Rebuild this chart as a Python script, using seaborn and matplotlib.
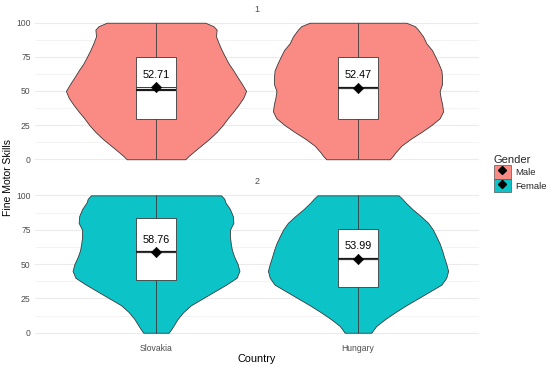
import numpy as np
import pandas as pd
import matplotlib
matplotlib.use("Agg")
import matplotlib.pyplot as plt
import seaborn as sns
from matplotlib.patches import Patch
from matplotlib.lines import Line2D
from matplotlib.legend_handler import HandlerTuple

# Data
countries = ["Slovakia", "Hungary"]
genders = ["Male", "Female"]
panels = ["1", "2"]

# violin outline: score levels and half widths (x units) at each level
levels = [0, 2.5, 5, 10, 15, 20, 25, 30, 35, 40, 45, 50, 55, 60, 65, 70, 75, 80, 85, 90, 95, 97.5, 100]
hw_sk_male = [0.145, 0.162, 0.182, 0.223, 0.264, 0.300, 0.330, 0.355, 0.383, 0.409, 0.432, 0.446,
              0.426, 0.404, 0.383, 0.360, 0.342, 0.325, 0.310, 0.297, 0.300, 0.284, 0.244]
hw_hu_male = [0.157, 0.173, 0.185, 0.215, 0.261, 0.314, 0.363, 0.404, 0.421, 0.417, 0.409, 0.404,
              0.416, 0.416, 0.413, 0.399, 0.383, 0.366, 0.338, 0.322, 0.297, 0.281, 0.239]
hw_sk_female = [0.063, 0.075, 0.086, 0.107, 0.135, 0.173, 0.231, 0.289, 0.347, 0.399, 0.413, 0.404,
                0.388, 0.376, 0.370, 0.366, 0.366, 0.383, 0.380, 0.366, 0.343, 0.338, 0.322]
hw_hu_female = [0.066, 0.078, 0.091, 0.135, 0.185, 0.239, 0.297, 0.355, 0.413, 0.437, 0.446, 0.437,
                0.426, 0.416, 0.404, 0.388, 0.371, 0.347, 0.310, 0.269, 0.234, 0.219, 0.201]

means = {"Male": [52.71, 52.47], "Female": [58.76, 53.99]}
medians = {"Male": [50.5, 52.5], "Female": [58.7, 54.0]}
q1 = {"Male": [29.5, 29.5], "Female": [38.3, 33.5]}
q3 = {"Male": [75.0, 75.0], "Female": [83.6, 75.2]}
whisker_lo = {"Male": [0, 0], "Female": [0, 0]}
whisker_hi = {"Male": [100, 100], "Female": [100, 100]}

half_widths = {"Male": [hw_sk_male, hw_hu_male], "Female": [hw_sk_female, hw_hu_female]}
colors = {"Male": "#F98A84", "Female": "#0CC3C8"}

sns.set_theme(style="white")
plt.rcParams["font.family"] = ["Liberation Sans", "DejaVu Sans"]

fig = plt.figure(figsize=(5.5, 3.69), dpi=100)
ax_top = fig.add_axes([0.0633, 0.5499, 0.808, 0.407])
ax_bot = fig.add_axes([0.0633, 0.0797, 0.808, 0.4095])

positions = np.arange(len(countries))
edge = "#3a3a3a"

for ax, gender, panel in zip([ax_top, ax_bot], genders, panels):
    ax.set_xlim(-0.6, 1.6)
    ax.set_ylim(-5, 105)
    ax.set_yticks([0, 25, 50, 75, 100])
    ax.set_yticks([12.5, 37.5, 62.5, 87.5], minor=True)
    ax.grid(axis="y", which="major", color="#EBEBEB", lw=0.8)
    ax.grid(axis="y", which="minor", color="#EBEBEB", lw=0.4)
    ax.grid(axis="x", visible=False)
    ax.set_axisbelow(True)
    for s in ax.spines.values():
        s.set_visible(False)
    ax.tick_params(axis="y", labelsize=6.2, labelcolor="#4D4D4D", length=0, pad=3)
    ax.tick_params(axis="x", labelsize=6.2, labelcolor="#4D4D4D", length=0, pad=3)

    for i, pos in enumerate(positions):
        hw = np.array(half_widths[gender][i])
        ax.fill_betweenx(levels, pos - hw, pos + hw, facecolor=colors[gender],
                         edgecolor=edge, lw=0.6, zorder=2)

    stats = []
    for i in range(len(countries)):
        stats.append({"med": medians[gender][i], "q1": q1[gender][i], "q3": q3[gender][i],
                      "whislo": whisker_lo[gender][i], "whishi": whisker_hi[gender][i],
                      "fliers": []})
    ax.bxp(stats, positions=positions, widths=0.2, patch_artist=True, showcaps=False,
           showfliers=False, manage_ticks=False,
           boxprops=dict(facecolor="white", edgecolor=edge, lw=0.6),
           whiskerprops=dict(color=edge, lw=0.6),
           medianprops=dict(color="#1a1a1a", lw=1.6),
           zorder=3)
    ax.hlines(means[gender], positions - 0.1, positions + 0.1, color=edge, lw=0.7, zorder=4)

    df = pd.DataFrame({"pos": positions, "mean": means[gender]})
    sns.scatterplot(data=df, x="pos", y="mean", marker="D", color="black", s=28,
                    edgecolor="black", ax=ax, zorder=5)
    for pos, m in zip(positions, means[gender]):
        ax.text(pos, m + 9, f"{m:.2f}", ha="center", va="center", fontsize=7.8,
                color="black", zorder=6)

    ax.set_xlabel("")
    ax.set_ylabel("")
    ax.set_title(panel, fontsize=6.5, color="#4D4D4D", pad=3)

ax_top.set_xticks(positions)
ax_top.set_xticklabels([])
ax_bot.set_xticks(positions)
ax_bot.set_xticklabels(countries)

fig.text(8 / 550, 1 - 178 / 369, "Fine Motor Skills", rotation=90, ha="center", va="center",
         fontsize=7.5, color="black")
fig.text(257 / 550, 1 - 359 / 369, "Country", ha="center", va="center", fontsize=7.8,
         color="black")

handles = [(Patch(facecolor=colors[g], edgecolor="#555555", lw=0.5),
            Line2D([], [], marker="D", color="black", ls="none", ms=4.5)) for g in genders]
leg = fig.legend(handles, genders, title="Gender", loc="upper left",
                 bbox_to_anchor=(494 / 550, 1 - 155 / 369), frameon=False,
                 fontsize=6.8, title_fontsize=8, handler_map={tuple: HandlerTuple(ndivide=1, pad=0)},
                 handlelength=1.75, handleheight=1.75, handletextpad=0.5, labelspacing=0.05,
                 borderaxespad=0, borderpad=0)
leg._legend_box.align = "left"

fig.savefig("out.png", dpi=100)
